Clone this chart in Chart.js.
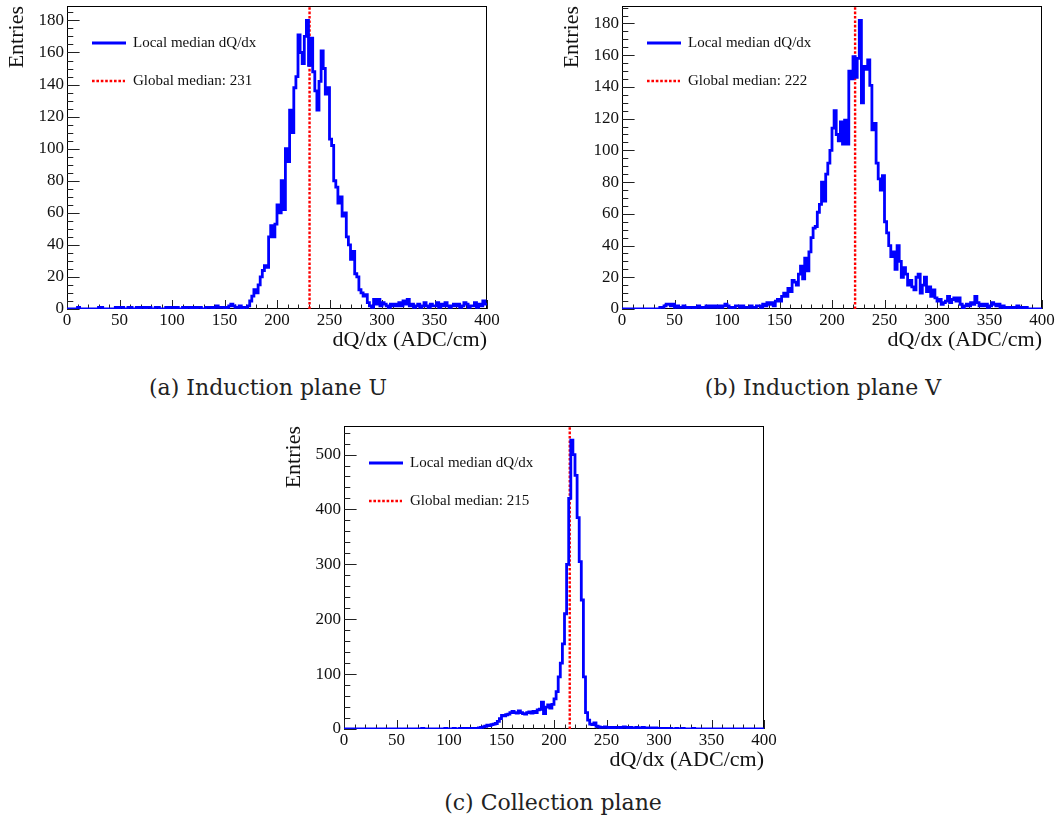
<!DOCTYPE html>
<html>
<head>
<meta charset="utf-8">
<title>Local median dQ/dx</title>
<script src="https://cdn.jsdelivr.net/npm/chart.js@4.4.1/dist/chart.umd.min.js"></script>
<style>
    body { margin: 0; background: #fff; width: 1056px; height: 826px; position: relative; overflow: hidden; }
    canvas { position: absolute; }
    .caption { position: absolute; font-family: "DejaVu Serif", serif; font-size: 22px; line-height: 26px; white-space: nowrap; transform: translateX(-50%); color: #222; }
</style>
</head>
<body>
<canvas id="planeU" width="520" height="360" style="left:0px; top:0px"></canvas>
<canvas id="planeV" width="520" height="360" style="left:555px; top:0px"></canvas>
<canvas id="planeC" width="520" height="360" style="left:277px; top:420px"></canvas>
<div class="caption" style="left:268px; top:375px">(a) Induction plane U</div>
<div class="caption" style="left:823px; top:375px">(b) Induction plane V</div>
<div class="caption" style="left:553px; top:790px">(c) Collection plane</div>
<script>
// histogram binning (ADC/cm), bins start at 0, 2, 4, ... 398
const binWidth = 2;
const xMin = 0;
const xMax = 400;
const xTickStep = 50;

// Induction plane U
const countsU = [
    0, 0, 0, 0, 0, 1, 0, 0, 0, 0,
    0, 0, 0, 0, 0, 1, 1, 0, 0, 0,
    0, 0, 0, 1, 0, 1, 1, 0, 0, 1,
    1, 0, 0, 1, 0, 1, 1, 0, 1, 1,
    0, 0, 1, 1, 0, 0, 0, 1, 0, 1,
    1, 0, 1, 0, 0, 1, 0, 1, 1, 0,
    1, 0, 1, 1, 0, 0, 1, 1, 1, 0,
    1, 2, 1, 1, 1, 0, 1, 2, 3, 2,
    1, 1, 2, 0, 1, 1, 2, 5, 8, 12,
    10, 15, 20, 24, 27, 26, 45, 52, 45, 53,
    65, 60, 80, 62, 100, 92, 124, 110, 138, 145,
    171, 160, 153, 170, 180, 152, 169, 148, 136, 124,
    142, 161, 150, 134, 138, 106, 102, 80, 76, 66,
    70, 58, 60, 45, 40, 31, 36, 22, 20, 12,
    10, 8, 9, 4, 2, 1, 6, 3, 6, 2,
    4, 3, 2, 1, 3, 2, 3, 2, 4, 2,
    5, 3, 6, 2, 3, 1, 2, 3, 1, 2,
    4, 2, 1, 3, 2, 2, 4, 1, 3, 2,
    4, 2, 1, 2, 3, 2, 3, 1, 2, 4,
    3, 1, 2, 2, 4, 1, 3, 2, 5, 3
];

// Induction plane V
const countsV = [
    0, 0, 0, 0, 0, 0, 0, 0, 0, 0,
    0, 0, 0, 0, 0, 0, 0, 0, 1, 1,
    2, 3, 3, 2, 3, 1, 2, 1, 1, 2,
    1, 0, 1, 1, 0, 1, 2, 1, 0, 1,
    2, 1, 2, 1, 2, 1, 2, 1, 2, 3,
    2, 1, 0, 1, 2, 2, 1, 2, 1, 1,
    1, 2, 1, 1, 2, 2, 1, 3, 2, 4,
    3, 4, 2, 5, 6, 5, 8, 10, 8, 13,
    11, 18, 17, 15, 22, 27, 19, 32, 24, 36,
    45, 51, 52, 61, 66, 80, 68, 85, 92, 100,
    114, 125, 110, 106, 118, 104, 119, 104, 150, 145,
    159, 146, 158, 182, 130, 153, 151, 157, 141, 113,
    117, 92, 82, 75, 84, 55, 48, 40, 33, 36,
    25, 40, 30, 20, 26, 22, 15, 18, 14, 12,
    20, 22, 10, 15, 20, 11, 14, 8, 12, 7,
    5, 6, 3, 4, 5, 8, 4, 6, 7, 5,
    7, 3, 0, 2, 3, 2, 4, 3, 8, 4,
    2, 3, 2, 3, 1, 2, 4, 3, 2, 3,
    1, 2, 0, 1, 0, 1, 0, 1, 2, 0,
    1, 0, 1, 0, 0, 0, 0, 0, 0, 0
];

// Collection plane
const countsC = [
    0, 0, 0, 0, 0, 0, 0, 0, 0, 0,
    0, 0, 0, 0, 0, 0, 0, 0, 0, 0,
    0, 0, 0, 0, 0, 0, 0, 0, 0, 0,
    0, 0, 0, 0, 0, 0, 0, 1, 0, 0,
    0, 0, 0, 0, 0, 0, 0, 0, 1, 0,
    0, 0, 1, 0, 0, 1, 0, 1, 0, 1,
    1, 0, 1, 1, 2, 3, 4, 5, 7, 6,
    8, 9, 10, 14, 19, 25, 24, 26, 27, 30,
    32, 30, 29, 33, 30, 28, 27, 30, 31, 29,
    32, 30, 35, 36, 49, 28, 40, 44, 38, 45,
    55, 68, 95, 120, 155, 210, 300, 420, 526, 500,
    462, 385, 305, 235, 95, 30, 16, 9, 8, 11,
    5, 4, 3, 3, 4, 3, 2, 3, 2, 3,
    3, 2, 3, 4, 3, 2, 3, 2, 2, 3,
    2, 2, 3, 2, 1, 2, 2, 1, 2, 1,
    1, 1, 0, 1, 0, 1, 0, 0, 1, 0,
    0, 1, 0, 0, 0, 0, 1, 0, 0, 0,
    0, 0, 0, 0, 0, 0, 0, 0, 0, 0,
    0, 0, 0, 0, 0, 0, 0, 0, 0, 0,
    0, 0, 0, 0, 0, 0, 0, 0, 0, 0
];

const medianU = 231;
const medianV = 222;
const medianC = 215;

const yMaxU = 189;
const yMaxV = 191;
const yMaxC = 552;

const histLabel = 'Local median dQ/dx';
const medianLabel = 'Global median: ';
const xTitle = 'dQ/dx (ADC/cm)';
const yTitle = 'Entries';

const serif = 'Liberation Serif';

// ROOT style frame, inward ticks and legend
const rootStyle = {
    id: 'rootStyle',
    beforeDatasetsDraw(chart, args, opts) {
        const {ctx, chartArea: a, scales: {x, y}} = chart;
        ctx.save();
        ctx.strokeStyle = '#000';
        ctx.lineWidth = 1;
        ctx.strokeRect(a.left + 0.5, a.top + 0.5, a.right - a.left - 1, a.bottom - a.top - 1);

        ctx.strokeStyle = '#222';
        ctx.beginPath();
        const nx = Math.round((x.max - x.min) / opts.xMinor);
        for (let i = 0; i <= nx; i++) {
            const v = x.min + i * opts.xMinor;
            const px = Math.round(x.getPixelForValue(v)) + 0.5;
            const len = (v % opts.xMajor === 0) ? 9 : 4.5;
            ctx.moveTo(px, a.bottom);
            ctx.lineTo(px, a.bottom - len);
        }
        const ny = Math.floor((y.max - y.min) / opts.yMinor);
        for (let i = 0; i <= ny; i++) {
            const v = y.min + i * opts.yMinor;
            const py = Math.round(y.getPixelForValue(v)) + 0.5;
            const len = (v % opts.yMajor === 0) ? 12.6 : 6.3;
            ctx.moveTo(a.left, py);
            ctx.lineTo(a.left + len, py);
        }
        ctx.stroke();
        ctx.restore();
    },
    afterDraw(chart, args, opts) {
        const {ctx, chartArea: a} = chart;
        const hist = chart.data.datasets[0];
        const med = chart.data.datasets[1];
        ctx.save();
        ctx.lineWidth = hist.borderWidth;
        ctx.strokeStyle = hist.borderColor;
        ctx.beginPath();
        ctx.moveTo(a.left + 25, a.top + 37);
        ctx.lineTo(a.left + 59, a.top + 37);
        ctx.stroke();
        ctx.lineWidth = med.borderWidth;
        ctx.strokeStyle = med.borderColor;
        ctx.setLineDash(med.borderDash);
        ctx.beginPath();
        ctx.moveTo(a.left + 25, a.top + 75);
        ctx.lineTo(a.left + 58, a.top + 75);
        ctx.stroke();
        ctx.setLineDash([]);
        ctx.fillStyle = '#111';
        ctx.font = `15px "${serif}"`;
        ctx.textBaseline = 'middle';
        ctx.fillText(hist.label, a.left + 66, a.top + 37);
        ctx.fillText(med.label, a.left + 66, a.top + 75);
        ctx.restore();
    }
};

const makePlot = (id, counts, median, yMax, yStep, yMinor) => {
    const points = counts.map((c, i) => ({x: xMin + i * binWidth, y: c}));
    points.push({x: xMax, y: counts[counts.length - 1]});

    return new Chart(document.getElementById(id), {
        type: 'line',
        data: {
            datasets: [{
                label: histLabel,
                data: points,
                stepped: true,
                borderColor: '#0000ff',
                borderWidth: 2.8,
                pointRadius: 0,
                fill: false
            }, {
                label: medianLabel + median,
                data: [{x: median, y: 0}, {x: median, y: yMax}],
                borderColor: '#ff0000',
                borderWidth: 2.4,
                borderDash: [2.6, 1.8],
                pointRadius: 0,
                fill: false
            }]
        },
        options: {
            responsive: false,
            animation: false,
            events: [],
            layout: {padding: {top: 6, right: 33, left: 0, bottom: 0}},
            plugins: {
                legend: {display: false},
                tooltip: {enabled: false},
                rootStyle: {xMajor: xTickStep, xMinor: 10, yMajor: yStep, yMinor: yMinor}
            },
            scales: {
                x: {
                    type: 'linear',
                    min: xMin,
                    max: xMax,
                    afterFit: (s) => { s.height = 51; s.paddingLeft = 0; s.paddingRight = 0; },
                    grid: {display: false, drawTicks: false},
                    border: {display: false},
                    ticks: {stepSize: xTickStep, autoSkip: false, maxRotation: 0, padding: 1, color: '#111', font: {family: serif, size: 17}},
                    title: {display: true, text: xTitle, align: 'end', color: '#111', font: {family: serif, size: 22}, padding: {top: 0, bottom: 7}}
                },
                y: {
                    type: 'linear',
                    min: 0,
                    max: yMax,
                    afterFit: (s) => { s.width = 67; s.paddingTop = 0; s.paddingBottom = 0; },
                    grid: {display: false, drawTicks: false},
                    border: {display: false},
                    ticks: {stepSize: yStep, includeBounds: false, padding: 3, color: '#111', font: {family: serif, size: 17}},
                    title: {display: true, text: yTitle, align: 'end', color: '#111', font: {family: serif, size: 22}, padding: {top: 4, bottom: 0}}
                }
            }
        },
        plugins: [rootStyle]
    });
};

document.addEventListener("DOMContentLoaded", () => {
    makePlot('planeU', countsU, medianU, yMaxU, 20, 5);
    makePlot('planeV', countsV, medianV, yMaxV, 20, 5);
    makePlot('planeC', countsC, medianC, yMaxC, 100, 20);
});
</script>
</body>
</html>
